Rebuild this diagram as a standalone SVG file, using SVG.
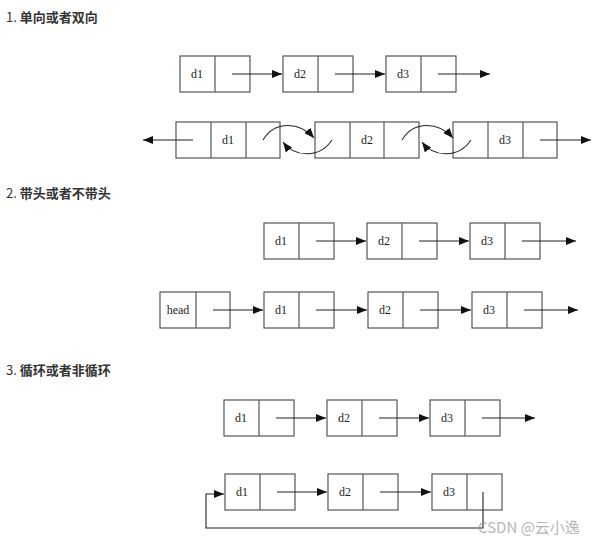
<svg xmlns="http://www.w3.org/2000/svg" width="615" height="549" viewBox="0 0 615 549">
<defs><marker id="a" markerWidth="10" markerHeight="8" refX="10" refY="4" orient="auto" markerUnits="userSpaceOnUse"><path d="M0,0 L10,4 L0,8 z" fill="#111"/></marker></defs>
<style>
.b{fill:#fff;stroke:#555;stroke-width:1.2}
.l{stroke:#555;stroke-width:1.2}
.t{font-family:"Liberation Serif",serif;font-size:12px;fill:#222;text-anchor:middle}
.h{font-family:"Noto Sans CJK SC",sans-serif;font-size:13px;font-weight:bold;fill:#333}
.c{stroke:#222;stroke-width:1.1;fill:none;marker-end:url(#a)}
</style>
<rect width="615" height="549" fill="#fff"/>
<text class="h" x="6" y="22"><tspan font-weight="normal">1. </tspan>单向或者双向</text>
<text class="h" x="6" y="198"><tspan font-weight="normal">2. </tspan>带头或者不带头</text>
<text class="h" x="6" y="375"><tspan font-weight="normal">3. </tspan>循环或者非循环</text>
<g id="r1">
<rect class="b" x="180" y="56" width="70" height="36"/><line class="l" x1="215" y1="56" x2="215" y2="92"/><text class="t" x="197" y="78">d1</text>
<rect class="b" x="283" y="56" width="70" height="36"/><line class="l" x1="318" y1="56" x2="318" y2="92"/><text class="t" x="300" y="78">d2</text>
<rect class="b" x="386" y="56" width="70" height="36"/><line class="l" x1="421" y1="56" x2="421" y2="92"/><text class="t" x="403" y="78">d3</text>
</g>
<g id="r2">
<rect class="b" x="176" y="122" width="104" height="36"/><line class="l" x1="211" y1="122" x2="211" y2="158"/><line class="l" x1="246" y1="122" x2="246" y2="158"/><text class="t" x="228" y="144">d1</text>
<rect class="b" x="315" y="122" width="104" height="36"/><line class="l" x1="350" y1="122" x2="350" y2="158"/><line class="l" x1="384" y1="122" x2="384" y2="158"/><text class="t" x="367" y="144">d2</text>
<rect class="b" x="453" y="122" width="104" height="36"/><line class="l" x1="488" y1="122" x2="488" y2="158"/><line class="l" x1="523" y1="122" x2="523" y2="158"/><text class="t" x="505" y="144">d3</text>
</g>
<g id="r3">
<rect class="b" x="264" y="223" width="70" height="36"/><line class="l" x1="299" y1="223" x2="299" y2="259"/><text class="t" x="281" y="245">d1</text>
<rect class="b" x="367" y="223" width="70" height="36"/><line class="l" x1="402" y1="223" x2="402" y2="259"/><text class="t" x="384" y="245">d2</text>
<rect class="b" x="470" y="223" width="70" height="36"/><line class="l" x1="505" y1="223" x2="505" y2="259"/><text class="t" x="487" y="245">d3</text>
</g>
<g id="r4">
<rect class="b" x="160" y="292" width="70" height="36"/><line class="l" x1="196" y1="292" x2="196" y2="328"/><text class="t" x="178" y="314">head</text>
<rect class="b" x="264" y="292" width="70" height="36"/><line class="l" x1="299" y1="292" x2="299" y2="328"/><text class="t" x="281" y="314">d1</text>
<rect class="b" x="368" y="292" width="70" height="36"/><line class="l" x1="403" y1="292" x2="403" y2="328"/><text class="t" x="385" y="314">d2</text>
<rect class="b" x="472" y="292" width="70" height="36"/><line class="l" x1="507" y1="292" x2="507" y2="328"/><text class="t" x="489" y="314">d3</text>
</g>
<g id="r5">
<rect class="b" x="224" y="400" width="70" height="36"/><line class="l" x1="259" y1="400" x2="259" y2="436"/><text class="t" x="241" y="422">d1</text>
<rect class="b" x="327" y="400" width="70" height="36"/><line class="l" x1="362" y1="400" x2="362" y2="436"/><text class="t" x="344" y="422">d2</text>
<rect class="b" x="430" y="400" width="70" height="36"/><line class="l" x1="465" y1="400" x2="465" y2="436"/><text class="t" x="447" y="422">d3</text>
</g>
<g id="r6">
<rect class="b" x="225" y="474" width="70" height="36"/><line class="l" x1="260" y1="474" x2="260" y2="510"/><text class="t" x="242" y="496">d1</text>
<rect class="b" x="328" y="474" width="70" height="36"/><line class="l" x1="363" y1="474" x2="363" y2="510"/><text class="t" x="345" y="496">d2</text>
<rect class="b" x="432" y="474" width="70" height="36"/><line class="l" x1="467" y1="474" x2="467" y2="510"/><text class="t" x="449" y="496">d3</text>
</g>
<g id="connectors">
<path class="c" d="M232,74 H282"/><path class="c" d="M335,74 H385"/><path class="c" d="M438,74 H490"/>
<path class="c" d="M193,140 H143"/><path class="c" d="M540,140 H591"/>
<path class="c" d="M263,140 C275,120 300,122 314,138"/>
<path class="c" d="M332,140 C320,158 295,158 283,142"/>
<path class="c" d="M402,140 C414,120 439,122 453,138"/>
<path class="c" d="M471,140 C459,158 434,158 422,142"/>
<path class="c" d="M316,241 H366"/><path class="c" d="M419,241 H469"/><path class="c" d="M522,241 H576"/>
<path class="c" d="M213,310 H263"/><path class="c" d="M316,310 H367"/><path class="c" d="M420,310 H471"/><path class="c" d="M524,310 H578"/>
<path class="c" d="M276,418 H326"/><path class="c" d="M379,418 H429"/><path class="c" d="M482,418 H535"/>
<path class="c" d="M277,492 H327"/><path class="c" d="M380,492 H431"/>
<path class="c" d="M483,492 V528 H206 V494 H224"/>
</g>
<text x="478" y="533" font-family="Noto Sans CJK SC,sans-serif" font-size="15" fill="#999" opacity="0.7">CSDN @云小逸</text>
</svg>
